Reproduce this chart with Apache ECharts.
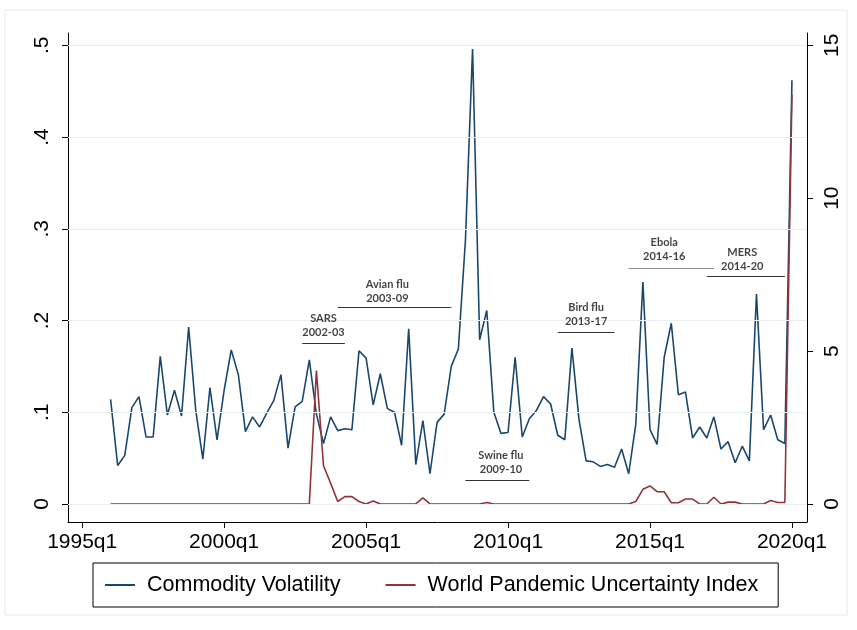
<!DOCTYPE html>
<html><head><meta charset="utf-8">
<script src="https://cdn.jsdelivr.net/npm/echarts@6/dist/echarts.min.js"></script>
<style>html,body{margin:0;padding:0;background:#fff}#c{width:857px;height:630px}</style>
</head><body><div id="c"></div>
<script>
// First observation: 1996q1, quarterly through 2020q1
const firstQuarter = '1996q1';
const commodityVolatility = [
  0.114,0.042,0.053,0.105,0.117,0.073,0.073,0.161,0.097,0.124,0.096,0.193,
  0.102,0.049,0.127,0.070,0.124,0.168,0.141,0.079,0.095,0.084,0.099,0.113,
  0.141,0.061,0.106,0.112,0.157,0.098,0.066,0.095,0.080,0.082,0.081,0.167,
  0.159,0.108,0.142,0.104,0.100,0.064,0.191,0.043,0.091,0.033,0.089,0.098,
  0.150,0.169,0.288,0.496,0.179,0.211,0.100,0.077,0.078,0.160,0.073,0.093,
  0.102,0.117,0.109,0.075,0.070,0.170,0.092,0.047,0.046,0.041,0.043,0.040,
  0.060,0.033,0.087,0.242,0.081,0.065,0.160,0.197,0.119,0.122,0.072,0.084,
  0.072,0.095,0.060,0.068,0.045,0.063,0.047,0.229,0.081,0.097,0.070,0.066,
  0.462
];
const pandemicUncertainty = [
  0,0,0,0,0,0,0,0,0,0,0,0,0,0,0,0,0,0,0,0,0,0,0,0,0,0,0,0,0,
  4.36,1.25,0.68,0.08,0.24,0.24,0.08,0,0.1,
  0,0,0,0,0,0,
  0.2,
  0,0,0,0,0,0,0,0,
  0.05,
  0,0,0,0,0,0,0,0,0,0,0,0,0,0,0,0,0,0,0,0,
  0.08,0.48,0.59,0.40,0.40,0.04,0.04,0.16,0.16,0,0,0.22,0,0.06,0.06,0,0,0,0,0.11,0.05,0.05,
  13.4
];
const xTickLabels = ['1995q1','2000q1','2005q1','2010q1','2015q1','2020q1'];
const leftTickValues = [0, 0.1, 0.2, 0.3, 0.4, 0.5];
const leftTickLabels = ['0', '.1', '.2', '.3', '.4', '.5'];
const rightTickValues = [0, 5, 10, 15];
const seriesNames = ['Commodity Volatility', 'World Pandemic Uncertainty Index'];
// annotations: name, period, text anchor (quarter, value), underline (from quarter, to quarter, value)
const annotationNames   = ['SARS', 'Avian flu', 'Swine flu', 'Bird flu', 'Ebola', 'MERS'];
const annotationPeriods = ['2002-03', '2003-09', '2009-10', '2013-17', '2014-16', '2014-20'];
const annotationTextAt  = [['2003q3',0.195],['2005q4',0.232],['2009q4',0.045],['2012q4',0.207],['2015q3',0.277],['2018q2',0.267]];
const annotationLines   = [['2002q4','2004q2',0.175],['2004q1','2008q1',0.215],['2008q3','2010q4',0.026],['2011q4','2013q4',0.187],['2014q2','2017q2',0.257],['2017q1','2019q4',0.248]];
const annotationLineColors = ['#333','#333','#333','#333','#8a8a8a','#333'];

function qToNum(s){ const y = parseInt(s.slice(0,4)); const q = parseInt(s.slice(5)); return y + (q-1)/4; }
const x0 = qToNum(firstQuarter);
const blueData = commodityVolatility.map((v,i)=>[x0 + i/4, v]);
const redData = pandemicUncertainty.map((v,i)=>[x0 + i/4, v]);
const xTickValues = xTickLabels.map(qToNum);

const font = '"Liberation Sans", Arial, sans-serif';
const chart = echarts.init(document.getElementById('c'), null, {renderer:'canvas'});
chart.setOption({
  animation: false,
  backgroundColor: '#fff',
  graphic: [{type:'rect', shape:{x:5, y:10, width:842, height:605}, style:{fill:'none', stroke:'#e4eaec', lineWidth:1}, z:-10}],
  grid: {left: 68, right: 50, top: 33, bottom: 108},
  legend: {
    left: 93, top: 563, orient: 'horizontal',
    borderColor: '#000', borderWidth: 1, padding: [11, 20, 11, 12],
    itemGap: 45, itemWidth: 30, itemHeight: 2, icon: 'rect',
    textStyle: {fontFamily: font, fontSize: 21.5, color: '#000', padding: [0,0,0,7]},
    data: seriesNames
  },
  xAxis: {
    type: 'value', min: qToNum('1995q1') - 0.5, max: qToNum('2020q1') + 0.53,
    splitLine: {show:false},
    axisLine: {onZero:false, lineStyle:{color:'#000', width:1}},
    axisTick: {show:true, length:6, lineStyle:{color:'#000'}, customValues: xTickValues},
    axisLabel: {customValues: xTickValues, formatter: v => xTickLabels[xTickValues.indexOf(v)] || '',
      fontFamily: font, fontSize: 21, color:'#000', margin: 10}
  },
  yAxis: [{
    type: 'value', min: -0.0196, max: 0.5134, position: 'left',
    splitLine: {show:false},
    axisLine: {show:true, onZero:false, lineStyle:{color:'#000', width:1}},
    axisTick: {show:true, length:6, lineStyle:{color:'#000'}, customValues: leftTickValues},
    axisLabel: {customValues: leftTickValues, rotate: 90, formatter: v => leftTickLabels[leftTickValues.indexOf(v)] ?? '',
      fontFamily: font, fontSize: 21, color:'#000', margin: 15}
  },{
    type: 'value', min: -0.59, max: 15.4, position: 'right',
    splitLine: {show:false},
    axisLine: {show:true, onZero:false, lineStyle:{color:'#000', width:1}},
    axisTick: {show:true, length:6, lineStyle:{color:'#000'}, customValues: rightTickValues},
    axisLabel: {customValues: rightTickValues, rotate: 90, formatter: v => String(v),
      fontFamily: font, fontSize: 21, color:'#000', margin: 15}
  }],
  series: [{
    name: 'grid', type: 'line', data: [], yAxisIndex: 0, z: 0, silent: true,
    markLine: {silent:true, symbol:'none', label:{show:false},
      lineStyle:{color:'#e6eef0', width:1, type:'solid'},
      data: leftTickValues.map(v => ({yAxis: v}))}
  },{
    name: seriesNames[0], type: 'line', data: blueData, yAxisIndex: 0,
    symbol: 'none', lineStyle: {color:'#1a476f', width:1.6}, itemStyle:{color:'#1a476f'}, z: 3
  },{
    name: seriesNames[1], type: 'line', data: redData, yAxisIndex: 1,
    symbol: 'none', lineStyle: {color:'#90353b', width:1.6}, itemStyle:{color:'#90353b'}, z: 4
  },{
    name: 'annotations', type: 'scatter', yAxisIndex: 0, symbolSize: 0, z: 5, silent: true,
    data: annotationTextAt.map((a,i)=>({value:[qToNum(a[0]), a[1]], name: annotationNames[i], period: annotationPeriods[i]})),
    label: {show:true, position:'inside', formatter: p => p.data.name + '\n' + p.data.period,
      fontFamily: 'Lato, "Open Sans", sans-serif', fontWeight:'bold', fontSize: 11, lineHeight: 14, color:'#111'},
    markLine: {silent:true, symbol:'none', label:{show:false},
      data: annotationLines.map((l,i)=>[
        {coord:[qToNum(l[0]), l[2]], lineStyle:{color:annotationLineColors[i], width:1, type:'solid'}},
        {coord:[qToNum(l[1]), l[2]]}])}
  }]
});
</script></body></html>
